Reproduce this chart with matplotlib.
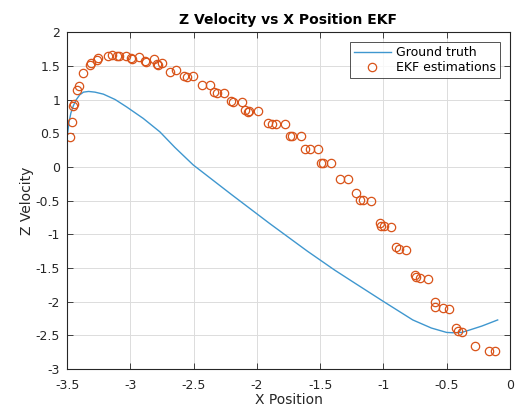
import matplotlib
matplotlib.use('Agg')
import matplotlib.pyplot as plt
import numpy as np

# ground truth trajectory (x position, z velocity)
gt_x = [-3.497, -3.485, -3.47, -3.45, -3.43, -3.40, -3.37, -3.33, -3.28, -3.213,
        -3.12, -3.029, -2.898, -2.766, -2.648, -2.503, -2.2, -1.898, -1.6,
        -1.385, -1.253, -1.004, -0.767, -0.62, -0.50, -0.45, -0.38, -0.319,
        -0.22, -0.096]
gt_z = [0.48, 0.66, 0.80, 0.91, 0.99, 1.07, 1.11, 1.12, 1.11, 1.08,
        1.00, 0.89, 0.72, 0.52, 0.29, 0.03, -0.41, -0.84, -1.25,
        -1.53, -1.69, -1.99, -2.27, -2.39, -2.455, -2.46, -2.455, -2.42,
        -2.36, -2.27]

# EKF estimates
ekf_x = [-3.476, -3.463, -3.455, -3.442, -3.419, -3.405, -3.371, -3.318, -3.313,
         -3.266, -3.253, -3.179, -3.147, -3.103, -3.087, -3.037, -2.995, -2.99,
         -2.929, -2.884, -2.878, -2.813, -2.792, -2.779, -2.753, -2.687, -2.64,
         -2.577, -2.555, -2.503, -2.437, -2.371, -2.337, -2.318, -2.258, -2.208,
         -2.187, -2.121, -2.095, -2.069, -2.062, -1.99, -1.911, -1.879, -1.845,
         -1.779, -1.74, -1.719, -1.653, -1.622, -1.582, -1.517, -1.49, -1.477,
         -1.411, -1.345, -1.28, -1.219, -1.187, -1.161, -1.095, -1.024, -1.016,
         -0.998, -0.937, -0.898, -0.877, -0.824, -0.753, -0.74, -0.708, -0.648,
         -0.595, -0.588, -0.53, -0.483, -0.424, -0.411, -0.377, -0.274, -0.161,
         -0.116]
ekf_z = [0.447, 0.67, 0.90, 0.93, 1.14, 1.20, 1.40, 1.51, 1.535,
         1.585, 1.61, 1.65, 1.66, 1.64, 1.64, 1.65, 1.62, 1.60,
         1.63, 1.575, 1.56, 1.60, 1.525, 1.51, 1.535, 1.41, 1.436,
         1.35, 1.33, 1.35, 1.21, 1.21, 1.115, 1.09, 1.10, 0.98,
         0.966, 0.966, 0.85, 0.818, 0.83, 0.83, 0.655, 0.635, 0.63,
         0.63, 0.457, 0.457, 0.457, 0.264, 0.264, 0.264, 0.061, 0.061,
         0.061, -0.186, -0.186, -0.393, -0.493, -0.493, -0.503, -0.838, -0.874,
         -0.874, -0.888, -1.185, -1.224, -1.234, -1.605, -1.64, -1.655, -1.66,
         -2.01, -2.075, -2.10, -2.11, -2.396, -2.43, -2.447, -2.654, -2.728,
         -2.728]

x_ticks = np.arange(-3.5, 0.01, 0.5)
y_ticks = np.arange(-3, 2.01, 0.5)

plt.rcParams['font.family'] = 'DejaVu Sans'

fig = plt.figure(figsize=(5.16, 4.12), dpi=100)
ax = fig.add_axes([0.130, 0.104, 0.858, 0.818])

ax.plot(gt_x, gt_z, color='#3f97cf', linewidth=1.0, label='Ground truth')
ax.plot(ekf_x, ekf_z, linestyle='none', marker='o', markersize=6,
        markerfacecolor='none', markeredgecolor='#d95319', markeredgewidth=0.9,
        label='EKF estimations')

ax.set_xlim(-3.5, 0)
ax.set_ylim(-3, 2)
ax.set_xticks(x_ticks)
ax.set_yticks(y_ticks)
ax.set_xticklabels(['%g' % t for t in x_ticks])
ax.set_yticklabels(['%g' % t for t in y_ticks])
ax.tick_params(direction='in', top=True, right=True, labelsize=9,
               length=4, width=0.6, color='#262626', labelcolor='#262626')
ax.tick_params(axis='x', pad=7)
ax.tick_params(axis='y', pad=5)
ax.grid(True, color='#dcdcdc', linewidth=0.7)
ax.set_axisbelow(True)
for s in ax.spines.values():
    s.set_color('#262626')
    s.set_linewidth(0.8)

ax.set_xlabel('X Position', fontsize=10, color='#262626', labelpad=1)
ax.set_ylabel('Z Velocity', fontsize=10, color='#262626', labelpad=1)
ax.set_title('Z Velocity vs X Position EKF', fontsize=10, fontweight='bold', pad=6)

leg = ax.legend(loc='upper right', fontsize=9, frameon=True, fancybox=False,
                borderaxespad=0.8, handlelength=3.0, borderpad=0.3,
                labelspacing=0.2, handletextpad=0.4)
leg.get_frame().set_edgecolor('#262626')
leg.get_frame().set_linewidth(0.7)

fig.savefig('out.png', dpi=100)
